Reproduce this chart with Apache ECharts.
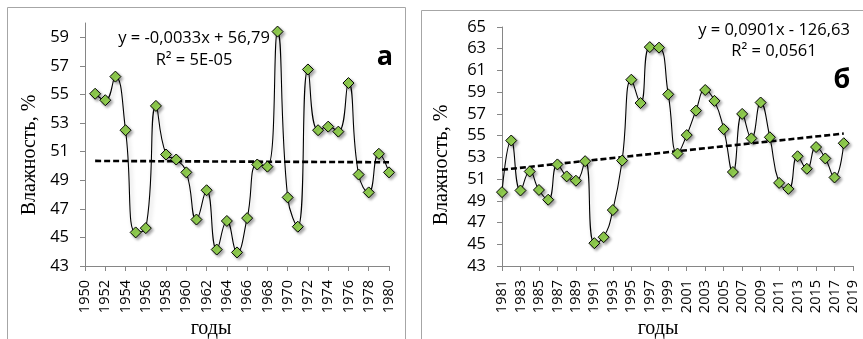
<!DOCTYPE html>
<html><head><meta charset="utf-8">
<script src="https://cdn.jsdelivr.net/npm/echarts@6/dist/echarts.min.js"></script>
<style>html,body{margin:0;padding:0;background:#fff}#c{width:863px;height:339px}</style>
</head><body><div id="c"></div>
<script>
// ---- Panel a (1951–1980) ----
const yearsA = [1951,1952,1953,1954,1955,1956,1957,1958,1959,1960,1961,1962,1963,1964,1965,1966,1967,1968,1969,1970,1971,1972,1973,1974,1975,1976,1977,1978,1979,1980];
const humidityA = [55.05,54.6,56.25,52.5,45.35,45.65,54.2,50.8,50.45,49.55,46.25,48.3,44.15,46.15,43.95,46.35,50.1,49.95,59.4,47.8,45.75,56.75,52.5,52.75,52.4,55.8,49.4,48.15,50.85,49.55];
const yTicksA = [43,45,47,49,51,53,55,57,59];
const xTicksA = [1950,1952,1954,1956,1958,1960,1962,1964,1966,1968,1970,1972,1974,1976,1978,1980];
const trendCoefA = [-0.0033, 56.79];
const eqTextA = ['y = -0,0033x + 56,79', 'R² = 5E-05'];

// ---- Panel б (1981–2018) ----
const yearsB = [1981,1982,1983,1984,1985,1986,1987,1988,1989,1990,1991,1992,1993,1994,1995,1996,1997,1998,1999,2000,2001,2002,2003,2004,2005,2006,2007,2008,2009,2010,2011,2012,2013,2014,2015,2016,2017,2018];
const humidityB = [49.8,54.55,49.95,51.7,50.0,49.1,52.35,51.25,50.85,52.65,45.1,45.65,48.15,52.7,60.15,58.0,63.15,63.1,58.8,53.35,55.05,57.3,59.2,58.2,55.6,51.65,57.0,54.75,58.05,54.85,50.65,50.1,53.1,51.95,53.95,52.9,51.15,54.3];
const yTicksB = [43,45,47,49,51,53,55,57,59,61,63,65];
const xTicksB = [1981,1983,1985,1987,1989,1991,1993,1995,1997,1999,2001,2003,2005,2007,2009,2011,2013,2015,2017,2019];
const trendCoefB = [0.0901, -126.63];
const eqTextB = ['y = 0,0901x - 126,63', 'R² = 0,0561'];

const yTitle = 'Влажность, %';
const xTitle = 'годы';
const panelLetters = ['а', 'б'];

const trendPts = (years, c) => [years[0], years[years.length-1]].map(x => [x, c[0]*x + c[1]]);
const pairs = (xs, ys) => xs.map((x,i) => [x, ys[i]]);

const axisGray = '#868686';

function xAxisCfg(idx, min, max, ticks){
  return { type:'value', gridIndex:idx, min, max,
    axisLine:{ lineStyle:{ color:axisGray, width:1 } },
    axisTick:{ show:true, length:5, customValues:ticks, lineStyle:{ color:axisGray } },
    axisLabel:{ customValues:ticks, rotate:90, margin:14, fontFamily:'Open Sans', fontSize:14.5, color:'#000',
      formatter: v => String(v) },
    splitLine:{ show:false } };
}
function yAxisCfg(idx, min, max, ticks){
  return { type:'value', gridIndex:idx, min, max,
    axisLine:{ show:true, lineStyle:{ color:axisGray, width:1 } },
    axisTick:{ show:true, length:5, customValues:ticks, lineStyle:{ color:axisGray } },
    axisLabel:{ customValues:ticks, margin:16, fontFamily:'Open Sans', fontSize:16.5, color:'#000',
      formatter: v => String(v) },
    splitLine:{ show:false } };
}

const dataStyle = (xi) => ({
  type:'line', xAxisIndex:xi, yAxisIndex:xi, smooth:0.5,
  symbol:'diamond', symbolSize:11,
  itemStyle:{ color:'#92d050', borderColor:'#000', borderWidth:1,
    shadowColor:'rgba(0,0,0,0.35)', shadowBlur:3, shadowOffsetX:2, shadowOffsetY:2 },
  lineStyle:{ color:'#000', width:1.1,
    shadowColor:'rgba(0,0,0,0.25)', shadowBlur:4, shadowOffsetX:2, shadowOffsetY:3 },
  z:3
});
const trendStyle = (xi) => ({
  type:'line', xAxisIndex:xi, yAxisIndex:xi, symbol:'none', silent:true,
  lineStyle:{ color:'#000', width:2.6, type:[6,3] }, z:2
});

const textG = (x, y, t, extra) => ({ type:'text', x, y, style:{ text:t, fill:'#000', align:'center', verticalAlign:'middle', ...extra } });

const option = {
  animation:false,
  grid:[
    { left:85, top:23, width:304, height:243 },
    { left:502, top:27, width:351, height:239 }
  ],
  xAxis:[ xAxisCfg(0, 1950, 1980, xTicksA), xAxisCfg(1, 1981, 2019, xTicksB) ],
  yAxis:[ yAxisCfg(0, 43, 60, yTicksA), yAxisCfg(1, 43, 65, yTicksB) ],
  series:[
    { ...trendStyle(0), data: trendPts(yearsA, trendCoefA) },
    { ...dataStyle(0), data: pairs(yearsA, humidityA) },
    { ...trendStyle(1), data: trendPts(yearsB, trendCoefB) },
    { ...dataStyle(1), data: pairs(yearsB, humidityB) }
  ],
  graphic:[
    { type:'rect', shape:{ x:7.5, y:7.5, width:398, height:345 }, style:{ fill:'none', stroke:'#a6a6a6', lineWidth:1 }, silent:true },
    { type:'rect', shape:{ x:421.5, y:10.5, width:460, height:345 }, style:{ fill:'none', stroke:'#a6a6a6', lineWidth:1 }, silent:true },
    textG(194, 38, eqTextA[0], { font:'16.5px "Open Sans"' }),
    textG(194, 60, eqTextA[1], { font:'16.5px "Open Sans"' }),
    textG(385, 57, panelLetters[0], { font:'bold 27px "Open Sans"' }),
    textG(774, 30, eqTextB[0], { font:'16.5px "Open Sans"' }),
    textG(774, 51, eqTextB[1], { font:'16.5px "Open Sans"' }),
    textG(842, 80, panelLetters[1], { font:'bold 27px "Open Sans"' }),
    textG(30, 155, yTitle, { font:'20px "Liberation Serif"' }),
    textG(442, 165, yTitle, { font:'20px "Liberation Serif"' }),
    textG(211, 329, xTitle, { font:'20px "Liberation Serif"' }),
    textG(658, 329, xTitle, { font:'20px "Liberation Serif"' })
  ]
};
option.graphic[8].rotation = Math.PI/2;
option.graphic[9].rotation = Math.PI/2;

const chart = echarts.init(document.getElementById('c'), null, { renderer:'canvas' });
chart.setOption(option);
</script></body></html>
